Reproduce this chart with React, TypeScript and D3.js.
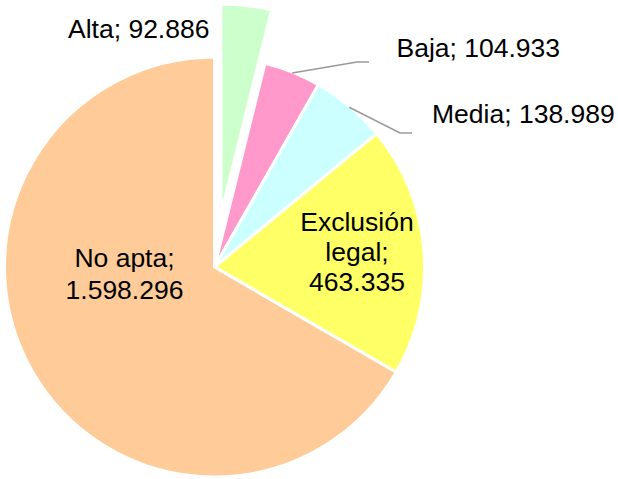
import React, {useEffect, useRef} from 'react';
import * as d3 from 'd3';

// Slices, clockwise from 12 o'clock
const categories = ['Alta', 'Baja', 'Media', 'Exclusión legal', 'No apta'];
const values = [92886, 104933, 138989, 463335, 1598296];
const valueLabels = ['92.886', '104.933', '138.989', '463.335', '1.598.296'];
const colors = ['#CCFFCC', '#FF99CC', '#CCFFFF', '#FFFF66', '#FFCC99'];
const exploded = [true, false, false, false, false];

const WIDTH = 618;
const HEIGHT = 479;

export default function App() {
  const svgRef = useRef<SVGSVGElement>(null);

  useEffect(() => {
    if (!svgRef.current) return;
    const root = d3.select(svgRef.current);
    root.selectAll('*').remove();

    const cx = 214.5;
    const cy = 267;
    const radius = 210;
    const explode = 53.5;
    const fontSize = 26.5;

    const svg = root.append('g').attr('transform', `translate(${cx},${cy})`);

    const pie = d3
      .pie<number>()
      .sort(null)
      .value((d) => d)
      .startAngle(0)
      .endAngle(2 * Math.PI);
    const arcs = pie(values);

    const arc = d3.arc<d3.PieArcDatum<number>>().innerRadius(0).outerRadius(radius);

    const offset = (d: d3.PieArcDatum<number>, i: number) => {
      if (!exploded[i]) return [0, 0];
      const a = (d.startAngle + d.endAngle) / 2;
      return [Math.sin(a) * explode, -Math.cos(a) * explode];
    };

    // Slices
    svg
      .selectAll('path.slice')
      .data(arcs)
      .join('path')
      .attr('class', 'slice')
      .attr('d', arc)
      .attr('transform', (d, i) => {
        const [dx, dy] = offset(d, i);
        return `translate(${dx},${dy})`;
      })
      .attr('fill', (_, i) => colors[i])
      .attr('stroke', '#fff')
      .attr('stroke-width', 3)
      .attr('stroke-linejoin', 'round');

    // Leader lines for the outside labels (Baja, Media)
    const leaders: {[k: number]: {elbow: [number, number]; end: [number, number]}} = {
      1: {elbow: [357, 62], end: [369, 62]},
      2: {elbow: [400, 133], end: [412, 133]},
    };
    Object.entries(leaders).forEach(([k, l]) => {
      const d = arcs[+k];
      const a = (d.startAngle + d.endAngle) / 2;
      const start: [number, number] = [
        cx + Math.sin(a) * (radius - 1),
        cy - Math.cos(a) * (radius - 1),
      ];
      root
        .append('polyline')
        .attr('points', [start, l.elbow, l.end].map((p) => p.join(',')).join(' '))
        .attr('fill', 'none')
        .attr('stroke', '#9a9a9a')
        .attr('stroke-width', 1.6);
    });

    // Labels
    const labelLayout = [
      {x: 68, y: 37.5, anchor: 'start', lines: 1},
      {x: 396.5, y: 57, anchor: 'start', lines: 1},
      {x: 432, y: 123, anchor: 'start', lines: 1},
      {x: 357, y: 230.5, anchor: 'middle', lines: 3},
      {x: 124.5, y: 266.5, anchor: 'middle', lines: 2},
    ];

    categories.forEach((c, i) => {
      const pos = labelLayout[i];
      let lines: string[];
      if (pos.lines === 1) lines = [`${c}; ${valueLabels[i]}`];
      else if (pos.lines === 2) lines = [`${c};`, valueLabels[i]];
      else {
        const words = c.split(' ');
        lines = [words[0], `${words.slice(1).join(' ')};`, valueLabels[i]];
      }
      const lineHeight = pos.lines === 3 ? 30 : 32.5;
      const text = root
        .append('text')
        .attr('x', pos.x)
        .attr('y', pos.y)
        .attr('text-anchor', pos.anchor)
        .attr('font-family', '"Liberation Sans", Arial, sans-serif')
        .attr('font-size', fontSize)
        .attr('fill', '#000');
      lines.forEach((ln, j) => {
        text
          .append('tspan')
          .attr('x', pos.x)
          .attr('y', pos.y + j * lineHeight)
          .text(ln);
      });
    });
  }, []);

  return (
    <svg
      ref={svgRef}
      width={WIDTH}
      height={HEIGHT}
      style={{position: 'absolute', left: 0, top: 0, background: '#fff'}}
    />
  );
}
